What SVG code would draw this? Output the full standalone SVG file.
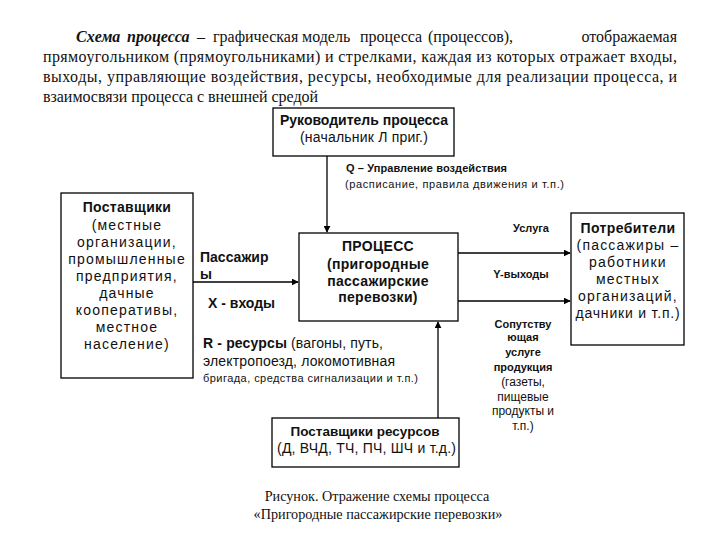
<svg xmlns="http://www.w3.org/2000/svg" width="720" height="540" viewBox="0 0 720 540">
<defs>
<marker id="ah" viewBox="0 0 10 10" refX="9" refY="5" markerWidth="7" markerHeight="7" markerUnits="userSpaceOnUse" orient="auto"><path d="M0,0 L10,5 L0,10 z" fill="#000"/></marker>
</defs>
<style>
.box{fill:#fff;stroke:#000;stroke-width:1.3}
.ln{fill:none;stroke:#000;stroke-width:1.3}
.para{font-family:"Liberation Serif","Times New Roman",serif;font-size:16px;fill:#111}
.cap{font-family:"Liberation Serif","Times New Roman",serif;font-size:14.2px;fill:#111}
.t{font-family:"Liberation Sans",Arial,sans-serif;font-size:14px;fill:#111}
.b{font-weight:bold}
.s{font-size:11px}
.m{font-size:12px}
.w{letter-spacing:1.2px}
.c{text-anchor:middle}
</style>
<rect width="720" height="540" fill="#fff"/>
<g id="paragraph">
<text class="para" y="42"><tspan x="76" font-style="italic" font-weight="bold">Схема</tspan><tspan x="127" font-style="italic" font-weight="bold">процесса</tspan><tspan x="197">–</tspan><tspan x="213">графическая</tspan><tspan x="302">модель</tspan><tspan x="360">процесса</tspan><tspan x="428">(процессов),</tspan></text>
<text class="para" x="677" y="42" text-anchor="end">отображаемая</text>
<text class="para" x="43" y="62" textLength="634" lengthAdjust="spacing">прямоугольником (прямоугольниками) и  стрелками, каждая из которых отражает входы,</text>
<text class="para" x="43" y="82" textLength="634" lengthAdjust="spacing">выходы, управляющие воздействия, ресурсы, необходимые для реализации процесса, и</text>
<text class="para" x="43" y="102" textLength="275" lengthAdjust="spacing">взаимосвязи процесса с внешней средой</text>
</g>
<g id="connectors">
<line class="ln" x1="327" y1="156" x2="327" y2="232" marker-end="url(#ah)"/>
<line class="ln" x1="193" y1="282" x2="298" y2="282" marker-end="url(#ah)"/>
<line class="ln" x1="458" y1="253" x2="570" y2="253" marker-end="url(#ah)"/>
<line class="ln" x1="458" y1="301" x2="570" y2="301" stroke-width="2.2" marker-end="url(#ah)"/>
<line class="ln" x1="438" y1="418" x2="438" y2="322" marker-end="url(#ah)"/>
</g>
<g id="manager">
<rect class="box" x="273" y="108" width="181" height="48"/>
<text class="t b c" x="364" y="125">Руководитель процесса</text>
<text class="t c" x="364" y="142" letter-spacing="0.2">(начальник Л приг.)</text>
</g>
<g id="control-label">
<text class="t b s" x="346" y="172" textLength="161" lengthAdjust="spacing">Q – Управление воздействия</text>
<text class="t s" x="345" y="188" textLength="219" lengthAdjust="spacing">(расписание, правила движения и т.п.)</text>
</g>
<g id="suppliers">
<rect class="box" x="61" y="193" width="132" height="185"/>
<text class="t b c" x="127" y="212" letter-spacing="0.3">Поставщики</text>
<text class="t c w" x="127" y="230">(местные</text>
<text class="t c w" x="127" y="247">организации,</text>
<text class="t c w" x="127" y="264">промышленные</text>
<text class="t c w" x="127" y="281">предприятия,</text>
<text class="t c w" x="127" y="298">дачные</text>
<text class="t c w" x="127" y="315">кооперативы,</text>
<text class="t c w" x="127" y="332">местное</text>
<text class="t c w" x="127" y="349">население)</text>
</g>
<g id="input-label">
<text class="t b" x="200" y="262">Пассажир</text>
<text class="t b" x="200" y="279">ы</text>
<text class="t b" x="208" y="308">X - входы</text>
</g>
<g id="process">
<rect class="box" x="299" y="233" width="159" height="88"/>
<text class="t b c" x="378" y="251" letter-spacing="0.3">ПРОЦЕСС</text>
<text class="t b c" x="378" y="269" letter-spacing="0.3">(пригородные</text>
<text class="t b c" x="378" y="286" letter-spacing="0.3">пассажирские</text>
<text class="t b c" x="378" y="302" letter-spacing="0.3">перевозки)</text>
</g>
<g id="output-labels">
<text class="t b c s" x="531" y="232">Услуга</text>
<text class="t b c s" x="521" y="278">Y-выходы</text>
<text class="t b c s" x="523" y="328">Сопутству</text>
<text class="t b c s" x="523" y="341">ющая</text>
<text class="t b c s" x="523" y="356">услуге</text>
<text class="t b c s" x="523" y="371">продукция</text>
<text class="t c m" x="523" y="386">(газеты,</text>
<text class="t c m" x="523" y="400.5">пищевые</text>
<text class="t c m" x="523" y="415">продукты и</text>
<text class="t c m" x="523" y="429.5">т.п.)</text>
</g>
<g id="consumers">
<rect class="box" x="571" y="213" width="113" height="132"/>
<text class="t b c" x="628" y="233" letter-spacing="0.4">Потребители</text>
<text class="t c w" x="628" y="250">(пассажиры –</text>
<text class="t c w" x="628" y="267">работники</text>
<text class="t c w" x="628" y="284">местных</text>
<text class="t c w" x="628" y="301">организаций,</text>
<text class="t c" x="628" y="318" letter-spacing="0.8">дачники и т.п.)</text>
</g>
<g id="resources-label">
<text class="t" x="203" y="348" textLength="180" lengthAdjust="spacing"><tspan font-weight="bold">R - ресурсы</tspan> (вагоны, путь,</text>
<text class="t" x="203" y="366" textLength="192" lengthAdjust="spacing">электропоезд, локомотивная</text>
<text class="t s" x="203" y="382" textLength="215" lengthAdjust="spacing">бригада, средства сигнализации и т.п.)</text>
</g>
<g id="resource-suppliers">
<rect class="box" x="272" y="418" width="187" height="49"/>
<text class="t b c" x="365" y="436" style="font-size:13.5px">Поставщики ресурсов</text>
<text class="t" x="277" y="453" textLength="179" lengthAdjust="spacing">(Д, ВЧД, ТЧ, ПЧ, ШЧ и т.д.)</text>
</g>
<g id="caption">
<text class="cap c" x="377" y="501">Рисунок. Отражение схемы процесса</text>
<text class="cap c" x="378" y="519">«Пригородные пассажирские перевозки»</text>
</g>
</svg>
